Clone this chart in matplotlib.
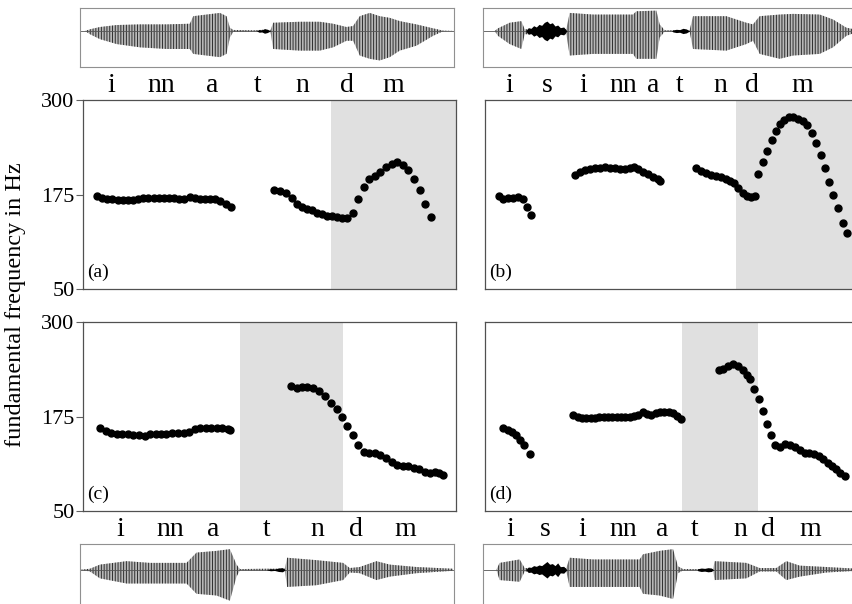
import matplotlib
matplotlib.use("Agg")
import matplotlib.pyplot as plt

plt.rcParams['font.family'] = ['Liberation Serif', 'DejaVu Serif']
plt.rcParams['hatch.linewidth'] = 0.7

# =========================================================
# F0 data (x = time in frame units, y = Hz)
# =========================================================
a1_t = [292, 307, 323, 338, 354, 369, 385, 400, 415, 431, 446, 462, 477, 492,
        508, 523, 539, 554, 570, 585, 600, 616, 631, 647, 662, 678, 693]
a1_f0 = [173, 170.5, 169, 168.5, 168, 168, 168, 168, 169.5, 170.5, 171, 171, 171, 171,
         170.5, 170, 169.5, 169, 172, 170, 169, 169, 169, 168.5, 166, 162, 158]
a2_t = [823, 840, 858, 875, 890, 905, 920, 935, 950, 965, 980, 995, 1010, 1025, 1040,
        1058, 1075, 1092, 1108, 1125, 1140, 1158, 1175, 1192, 1210, 1225, 1242, 1260, 1275, 1292]
a2_f0 = [181, 180, 177, 170, 163, 159, 156, 154, 151, 149, 147, 146, 145, 144, 144,
         151, 169, 185, 195, 199, 205, 211, 216, 218, 214, 207, 195, 181, 163, 145]

b1_t = [118, 130, 145, 160, 175, 188, 200, 213]
b1_f0 = [173, 169, 170, 171, 172, 169, 158, 148]
b2_t = [345, 360, 375, 390, 405, 420, 435, 450, 465, 480, 495, 510, 522, 535, 550, 565, 580, 593, 600]
b2_f0 = [200.8, 204.8, 207.4, 208.7, 209.6, 210.5, 210.9, 210.5, 209.6, 208.7, 208.3, 209.6,
         211.8, 208.3, 205.2, 202.1, 198.6, 195.1, 193.3]
b3_t = [708, 722, 738, 752, 768, 783, 797, 810, 822, 835, 848, 860, 872, 885, 895, 908, 922, 935,
        948, 960, 972, 987, 1000, 1015, 1028, 1040, 1055, 1068, 1082, 1095, 1108, 1120, 1133, 1148, 1160]
b3_f0 = [209.6, 206.1, 203.0, 200.8, 199.5, 197.7, 195.5, 193.3, 189.8, 183.2, 177.4, 173.0, 171.3,
         173.0, 201.7, 218.4, 233.0, 247.1, 259.4, 267.8, 273.5, 278.0, 277.1, 274.9, 272.7, 266.9,
         256.8, 242.7, 227.3, 209.6, 192.0, 174.3, 156.7, 137.7, 124.5]

c1_t = [300, 318, 335, 352, 368, 385, 400, 418, 435, 450, 468, 485, 500, 518, 535, 552, 568,
        585, 600, 618, 635, 652, 668, 685, 692]
c1_f0 = [159.2, 156.1, 153.5, 151.7, 151.7, 151.2, 150.8, 150.4, 149.0, 151.2, 151.7, 151.7,
         152.1, 152.6, 152.6, 153.0, 154.3, 158.7, 160.0, 160.0, 160.0, 160.0, 159.6, 158.7, 157.0]
c2_t = [873, 890, 905, 922, 940, 958, 975, 992, 1010, 1025, 1042, 1060, 1075, 1093, 1108, 1125,
        1140, 1158, 1175, 1192, 1210, 1225, 1242, 1258, 1275, 1290, 1305, 1318, 1330]
c2_f0 = [215.1, 212.9, 214.2, 214.2, 212.9, 208.5, 201.9, 193.1, 184.3, 174.6, 162.2, 149.9,
         137.2, 128.4, 127.0, 126.2, 123.5, 119.6, 115.2, 110.8, 109.9, 109.4, 107.2, 105.0,
         101.9, 100.6, 101.1, 100.6, 97.6]

d1_t = [130, 143, 155, 168, 180, 193, 210]
d1_f0 = [159.2, 157.8, 154.8, 150.4, 143.8, 137.2, 125.3]
d2_t = [340, 353, 366, 379, 392, 405, 418, 431, 444, 457, 470, 483, 496, 509, 522, 535, 548,
        561, 574, 587, 600, 613, 626, 639, 652, 662]
d2_f0 = [176.8, 174.5, 173.2, 173.2, 173.2, 173.2, 173.7, 173.7, 173.7, 173.7, 174.1, 174.1,
         174.1, 174.5, 175.5, 176.8, 180.8, 178.1, 176.8, 179.0, 180.3, 181.2, 181.2, 179.8, 176.3, 171.1]
d3_t = [778, 790, 805, 820, 835, 850, 860, 870, 882, 897, 908, 922, 933, 945, 960, 975, 990,
        1005, 1020, 1035, 1048, 1062, 1078, 1090, 1103, 1115, 1128, 1140, 1155]
d3_f0 = [237.1, 238.4, 241.5, 245.0, 242.4, 236.2, 230.5, 224.3, 212.0, 197.5, 182.5, 164.5,
         150.4, 137.2, 135.0, 138.1, 137.2, 135.0, 130.6, 127.0, 127.0, 125.3, 122.6, 118.7,
         113.8, 109.4, 105.0, 99.8, 96.3]

# shaded (focus) intervals
a_span = (992, 1368)
b_span = (828, 1194)
c_span = (722, 1028)
d_span = (665, 893)

# =========================================================
# waveform envelopes (time, upper amplitude, lower amplitude)
# =========================================================
wtl_t = [255, 270, 300, 350, 420, 500, 570, 580, 620, 660, 680, 690, 700, 760, 780, 800, 812,
         820, 900, 960, 1000, 1040, 1060, 1080, 1110, 1140, 1170, 1200, 1250, 1300, 1330, 1363]
wtl_up = [0, 5, 12, 18, 20, 20, 22, 45, 50, 55, 45, 10, 3, 2, 3, 4, 2,
          25, 28, 28, 22, 12, 15, 45, 55, 45, 40, 30, 20, 8, 1, 0]
wtl_dn = [0, 10, 25, 40, 50, 55, 55, 70, 75, 80, 70, 20, 3, 2, 3, 4, 2,
          55, 60, 60, 50, 30, 30, 75, 85, 90, 80, 60, 45, 15, 1, 0]

wtr_t = [70, 105, 115, 150, 185, 195, 320, 330, 400, 520, 530, 590, 600, 615, 690, 700, 800,
         860, 880, 900, 960, 1000, 1080, 1120, 1160, 1192]
wtr_up = [0, 0, 8, 25, 30, 5, 5, 55, 50, 50, 60, 62, 20, 2, 2, 45, 45,
          25, 20, 45, 50, 52, 50, 35, 10, 3]
wtr_dn = [0, 0, 15, 40, 55, 10, 10, 75, 70, 70, 85, 85, 20, 2, 2, 55, 60,
          40, 30, 70, 85, 75, 70, 50, 15, 3]

wbl_t = [240, 270, 300, 380, 450, 560, 590, 650, 690, 710, 720, 800, 855, 862, 950, 1030,
         1050, 1080, 1130, 1170, 1250, 1360]
wbl_up = [0, 3, 15, 25, 20, 20, 50, 55, 60, 15, 2, 3, 3, 35, 28, 20, 5, 8, 25, 15, 8, 3]
wbl_dn = [0, 5, 25, 40, 40, 40, 70, 75, 90, 20, 2, 3, 3, 50, 45, 30, 8, 10, 30, 20, 10, 3]

wbr_t = [70, 110, 120, 180, 195, 320, 330, 400, 540, 550, 600, 640, 655, 670, 760, 765, 860,
         900, 950, 980, 1020, 1100, 1192]
wbr_up = [0, 0, 20, 30, 5, 5, 35, 30, 30, 45, 55, 60, 10, 2, 2, 25, 20, 5, 5, 25, 12, 8, 3]
wbr_dn = [0, 0, 30, 35, 5, 5, 50, 50, 50, 70, 75, 85, 10, 2, 2, 30, 25, 5, 5, 30, 20, 8, 3]

# fricative / burst noise (time, amplitude); zeros separate the bursts
ntl_t = [770, 778, 786, 794, 802, 812]
ntl_a = [0, 4, 3, 7, 5, 0]
ntr_t = [198, 206, 214, 222, 230, 238, 246, 254, 262, 270, 278, 286, 294, 302, 312, 322,
         324, 636, 640, 650, 660, 670, 680, 690]
ntr_a = [0, 10, 8, 16, 12, 20, 17, 26, 30, 22, 25, 15, 18, 10, 12, 0,
         0, 0, 3, 5, 4, 8, 6, 0]
nbl_t = [800, 812, 824, 836, 848, 856]
nbl_a = [0, 3, 2, 5, 6, 0]
nbr_t = [198, 206, 214, 222, 230, 238, 246, 254, 262, 270, 278, 286, 294, 302, 312, 322,
         324, 712, 715, 725, 735, 745, 755, 762]
nbr_a = [0, 8, 7, 12, 10, 14, 12, 18, 24, 16, 18, 12, 20, 9, 10, 0,
         0, 0, 3, 5, 4, 6, 5, 0]

labels_left = ["i", "nn", "a", "t", "n", "d", "m"]
labels_right = ["i", "s", "i", "nn", "a", "t", "n", "d", "m"]
lab_tl_x = [111, 161, 212, 258, 302, 347, 393]
lab_bl_x = [120, 170, 213, 267, 317, 356, 405]
lab_tr_x = [509, 547, 583, 623, 653, 680, 720, 752, 802]
lab_br_x = [510, 545, 582, 623, 662, 695, 740, 768, 810]

W, H = 853, 604
fig = plt.figure(figsize=(W / 100, H / 100), dpi=100)


def box(left, top, right, bottom):
    return [left / W, 1 - bottom / H, (right - left) / W, (bottom - top) / H]


def pitch_panel(pos, xlim, span, segs, tag, show_ticks):
    ax = fig.add_axes(box(*pos))
    ax.axvspan(span[0], span[1], color="#e0e0e0", lw=0, zorder=0)
    for t, f in segs:
        ax.plot(t, f, "o", color="black", ms=5, mec="black", zorder=3)
    ax.set_xlim(*xlim)
    ax.set_ylim(50, 300)
    ax.set_xticks([])
    if show_ticks:
        ax.set_yticks([50, 175, 300])
        ax.tick_params(axis="y", length=5, width=0.8, color="#606060", labelsize=16, pad=1)
    else:
        ax.set_yticks([])
    for s in ax.spines.values():
        s.set_color("#505050")
        s.set_linewidth(0.9)
    ax.text(0.012, 0.04, tag, transform=ax.transAxes, fontsize=14, va="bottom", ha="left")
    return ax


def wave_panel(pos, xlim, ylim, t, up, dn, nt, na):
    ax = fig.add_axes(box(*pos))
    ax.fill_between(t, up, [-d for d in dn], facecolor="#b8b8b8",
                    edgecolor="#2e2e2e", hatch="||||||", lw=0)
    ax.fill_between(nt, na, [-a for a in na], color="black", lw=0, zorder=3)
    ax.axhline(0, color="#555555", lw=0.6)
    ax.set_xlim(*xlim)
    ax.set_ylim(*ylim)
    ax.set_xticks([])
    ax.set_yticks([])
    for s in ax.spines.values():
        s.set_color("#909090")
        s.set_linewidth(0.8)
    return ax


pitch_panel((83, 100, 456, 289), (250, 1368), a_span, [(a1_t, a1_f0), (a2_t, a2_f0)], "(a)", True)
pitch_panel((485, 100, 858, 289), (75, 1194), b_span,
            [(b1_t, b1_f0), (b2_t, b2_f0), (b3_t, b3_f0)], "(b)", False)
pitch_panel((83, 322, 456, 511), (250, 1368), c_span, [(c1_t, c1_f0), (c2_t, c2_f0)], "(c)", True)
pitch_panel((485, 322, 858, 511), (75, 1194), d_span,
            [(d1_t, d1_f0), (d2_t, d2_f0), (d3_t, d3_f0)], "(d)", False)

wave_panel((80, 8, 454, 67), (240, 1363), (-110, 70), wtl_t, wtl_up, wtl_dn, ntl_t, ntl_a)
wave_panel((483, 8, 857, 67), (70, 1192), (-110, 70), wtr_t, wtr_up, wtr_dn, ntr_t, ntr_a)
wave_panel((80, 544, 454, 612), (240, 1363), (-123, 75), wbl_t, wbl_up, wbl_dn, nbl_t, nbl_a)
wave_panel((483, 544, 857, 612), (70, 1192), (-123, 75), wbr_t, wbr_up, wbr_dn, nbr_t, nbr_a)

for xs, labs, y in [(lab_tl_x, labels_left, 85), (lab_bl_x, labels_left, 530),
                    (lab_tr_x, labels_right, 85), (lab_br_x, labels_right, 529)]:
    for x, s in zip(xs, labs):
        fig.text(x / W, 1 - y / H, s, fontsize=20, ha="center", va="center")

fig.text(16 / W, 1 - 305 / H, "fundamental frequency in Hz", rotation=90,
         fontsize=17.5, ha="center", va="center")

fig.savefig("out.png", dpi=100)
